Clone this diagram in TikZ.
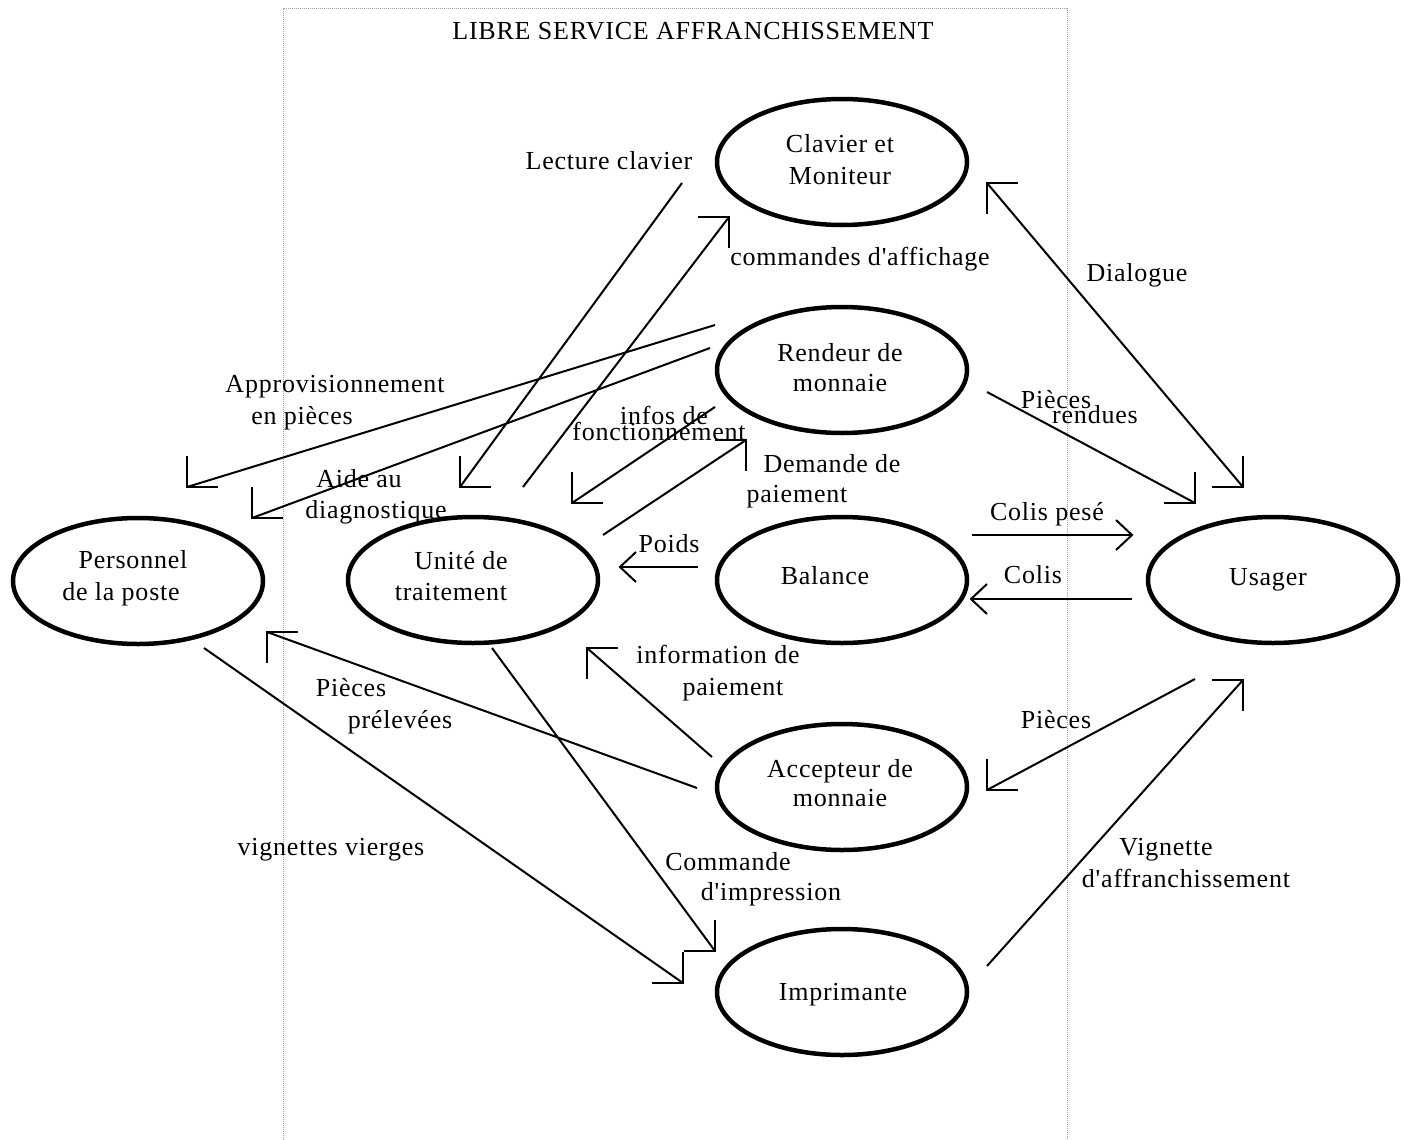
\documentclass[tikz,border=0pt]{standalone}
\usepackage{fontspec}
\newfontfamily\dfont{Liberation Serif}[LetterSpace=3]
\usetikzlibrary{shapes.geometric}
\tikzset{
  conn/.style={line width=2pt, line join=miter},
  actor/.style={draw, line width=4.5pt, ellipse, minimum width=250pt, minimum height=126pt, inner sep=0pt},
  lbl/.style={anchor=base, inner sep=0pt, font=\dfont\fontsize{26}{31}\selectfont},
  frame/.style={draw=gray!75, line width=1pt, densely dotted},
  brRU/.pic={\draw[conn] (31,0) -- (0,0) -- (0,-31);},
  brRD/.pic={\draw[conn] (31,0) -- (0,0) -- (0,31);},
  brLU/.pic={\draw[conn] (-31,0) -- (0,0) -- (0,-31);},
  brLD/.pic={\draw[conn] (-31,0) -- (0,0) -- (0,31);},
  vL/.pic={\draw[conn] (16,-15) -- (0,0) -- (16,15);},
  vR/.pic={\draw[conn] (-16,-15) -- (0,0) -- (-16,15);}
}
\begin{document}
\begin{tikzpicture}[x=1pt,y=-1pt]
\fill[white] (0,0) rectangle (1411,1140);
\useasboundingbox (0,0) rectangle (1411,1140);
% frame
\draw[frame] (283,1140) -- (283,9) -- (1067,9) -- (1067,1140);
\node[lbl] (title) at (693,40) {LIBRE SERVICE AFFRANCHISSEMENT};

% ellipses
\node[actor] (clav) at (842,162) {};
\node[actor] (rend) at (842,370) {};
\node[actor] (bal) at (842,580) {};
\node[actor] (acc) at (842,787) {};
\node[actor] (impr) at (842,992) {};
\node[actor] (unite) at (473,580) {};
\node[actor] (pers) at (138,581) {};
\node[actor] (usag) at (1273,580) {};

% ellipse texts
\node[lbl] (clavT1) at (840,152) {Clavier et};
\node[lbl] (clavT2) at (840,184) {Moniteur};
\node[lbl] (rendT1) at (840,361) {Rendeur de};
\node[lbl] (rendT2) at (840,391) {monnaie};
\node[lbl] (balT) at (825,584) {Balance};
\node[lbl] (accT1) at (840,777) {Accepteur de};
\node[lbl] (accT2) at (840,806) {monnaie};
\node[lbl] (imprT) at (843,1000) {Imprimante};
\node[lbl] (uniteT1) at (461,569) {Unit\'e de};
\node[lbl] (uniteT2) at (451,600) {traitement};
\node[lbl] (persT1) at (133,568) {Personnel};
\node[lbl] (persT2) at (121,600) {de la poste};
\node[lbl] (usagT) at (1268,585) {Usager};

% connector labels
\node[lbl] (lLect) at (609,169) {Lecture clavier};
\node[lbl] (lCmdAff) at (860,265) {commandes d'affichage};
\node[lbl] (lDial) at (1137,281) {Dialogue};
\node[lbl] (lAppA) at (335,392) {Approvisionnement};
\node[lbl] (lAppB) at (302,424) {en pi\`eces};
\node[lbl] (lPRa) at (1056,408) {Pi\`eces};
\node[lbl] (lPRb) at (1095,423) {rendues};
\node[lbl] (lInfA) at (664,424) {infos de};
\node[lbl] (lInfB) at (659,440) {fonctionnement};
\node[lbl] (lDemA) at (832,472) {Demande de};
\node[lbl] (lDemB) at (797,502) {paiement};
\node[lbl] (lAideA) at (359,487) {Aide au};
\node[lbl] (lAideB) at (376,518) {diagnostique};
\node[lbl] (lPoids) at (669,552) {Poids};
\node[lbl] (lColP) at (1047,520) {Colis pes\'e};
\node[lbl] (lColis) at (1033,583) {Colis};
\node[lbl] (lIPa) at (718,663) {information de};
\node[lbl] (lIPb) at (733,695) {paiement};
\node[lbl] (lPPa) at (351,696) {Pi\`eces};
\node[lbl] (lPPb) at (400,728) {pr\'elev\'ees};
\node[lbl] (lP3) at (1056,728) {Pi\`eces};
\node[lbl] (lVV) at (331,855) {vignettes vierges};
\node[lbl] (lVA) at (1166,855) {Vignette};
\node[lbl] (lVB) at (1186,887) {d'affranchissement};
\node[lbl] (lCIa) at (728,870) {Commande};
\node[lbl] (lCIb) at (771,900) {d'impression};

% connector end points
\coordinate (lcA) at (682,183);  \coordinate (lcB) at (460,487);
\coordinate (caA) at (523,487);  \coordinate (caB) at (729,217);
\coordinate (apA) at (715,325);  \coordinate (apB) at (187,487);
\coordinate (adA) at (710,348);  \coordinate (adB) at (252,518);
\coordinate (ifA) at (715,407);  \coordinate (ifB) at (572,503);
\coordinate (dpA) at (603,535);  \coordinate (dpB) at (746,440);
\coordinate (poA) at (698,567);  \coordinate (poB) at (620,567);
\coordinate (cpA) at (972,535);  \coordinate (cpB) at (1132,535);
\coordinate (coA) at (1132,599); \coordinate (coB) at (971,599);
\coordinate (ipA) at (712,757);  \coordinate (ipB) at (587,648);
\coordinate (ppA) at (697,788);  \coordinate (ppB) at (267,632);
\coordinate (vvA) at (204,648);  \coordinate (vvB) at (683,983);
\coordinate (ciA) at (492,648);  \coordinate (ciB) at (715,951);
\coordinate (diA) at (987,183);  \coordinate (diB) at (1243,487);
\coordinate (prA) at (987,392);  \coordinate (prB) at (1195,503);
\coordinate (p3A) at (1195,679); \coordinate (p3B) at (987,790);
\coordinate (vaA) at (987,966);  \coordinate (vaB) at (1243,680);

% connectors
\draw[conn] (lcA) -- (lcB); \pic at (lcB) {brRU};
\draw[conn] (caA) -- (caB); \pic at (caB) {brLD};
\draw[conn] (apA) -- (apB); \pic at (apB) {brRU};
\draw[conn] (adA) -- (adB); \pic at (adB) {brRU};
\draw[conn] (ifA) -- (ifB); \pic at (ifB) {brRU};
\draw[conn] (dpA) -- (dpB); \pic at (dpB) {brLD};
\draw[conn] (poA) -- (poB); \pic at (poB) {vL};
\draw[conn] (cpA) -- (cpB); \pic at (cpB) {vR};
\draw[conn] (coA) -- (coB); \pic at (coB) {vL};
\draw[conn] (ipA) -- (ipB); \pic at (ipB) {brRD};
\draw[conn] (ppA) -- (ppB); \pic at (ppB) {brRD};
\draw[conn] (vvA) -- (vvB); \pic at (vvB) {brLU};
\draw[conn] (ciA) -- (ciB); \pic at (ciB) {brLU};
\draw[conn] (diA) -- (diB); \pic at (diA) {brRD}; \pic at (diB) {brLU};
\draw[conn] (prA) -- (prB); \pic at (prB) {brLU};
\draw[conn] (p3A) -- (p3B); \pic at (p3B) {brRU};
\draw[conn] (vaA) -- (vaB); \pic at (vaB) {brLD};
\end{tikzpicture}
\end{document}
